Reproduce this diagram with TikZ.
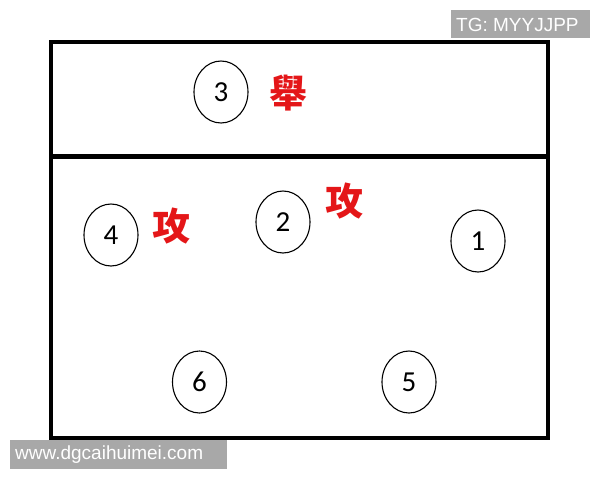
\documentclass[tikz,border=0pt]{standalone}
\usepackage{fontspec}
\setmainfont{Carlito}
\newfontfamily\cjk{Noto Sans CJK TC}
\newfontfamily\wmfont{Liberation Sans}
\usetikzlibrary{shapes.geometric}
\definecolor{markred}{RGB}{228,22,24}
\definecolor{wmgray}{RGB}{168,168,168}
\tikzset{
  player/.style={draw, ellipse, line width=1.1pt, minimum width=54pt, minimum height=62pt, inner sep=0pt, font=\fontsize{29}{29}\selectfont},
  actlabel/.style={text=markred, font=\cjk\bfseries\fontsize{38}{38}\selectfont, inner sep=0pt},
  court/.style={line width=4.5pt},
  wmtext/.style={text=white, font=\wmfont\fontsize{19}{19}\selectfont, anchor=west, inner sep=0pt}
}
\begin{document}
\begin{tikzpicture}[x=1pt,y=-1pt]
\useasboundingbox (0,0) rectangle (600,480);
\fill[white] (0,0) rectangle (600,480);
% court
\draw[court] (51,42) rectangle (548,438);
\coordinate (netL) at (51,156.5);
\coordinate (netR) at (548,156.5);
\draw[court] (netL) -- (netR);
% players
\node[player] (p3) at (221,92) {3};
\node[player] (p4) at (111,235) {4};
\node[player] (p2) at (283,222) {2};
\node[player] (p1) at (478,241) {1};
\node[player] (p6) at (199.5,382) {6};
\node[player] (p5) at (409,382) {5};
% labels
\node[actlabel] (ju) at (288,93) {舉};
\node[actlabel] (gong1) at (171,226) {攻};
\node[actlabel] (gong2) at (344,201) {攻};
% watermarks
\fill[wmgray] (451,10) rectangle (590,38);
\node[wmtext] (tg) at (456,24.5) {TG: MYYJJPP};
\fill[wmgray] (10,440) rectangle (227,469);
\node[wmtext] (www) at (15,454.5) {www.dgcaihuimei.com};
\end{tikzpicture}
\end{document}
